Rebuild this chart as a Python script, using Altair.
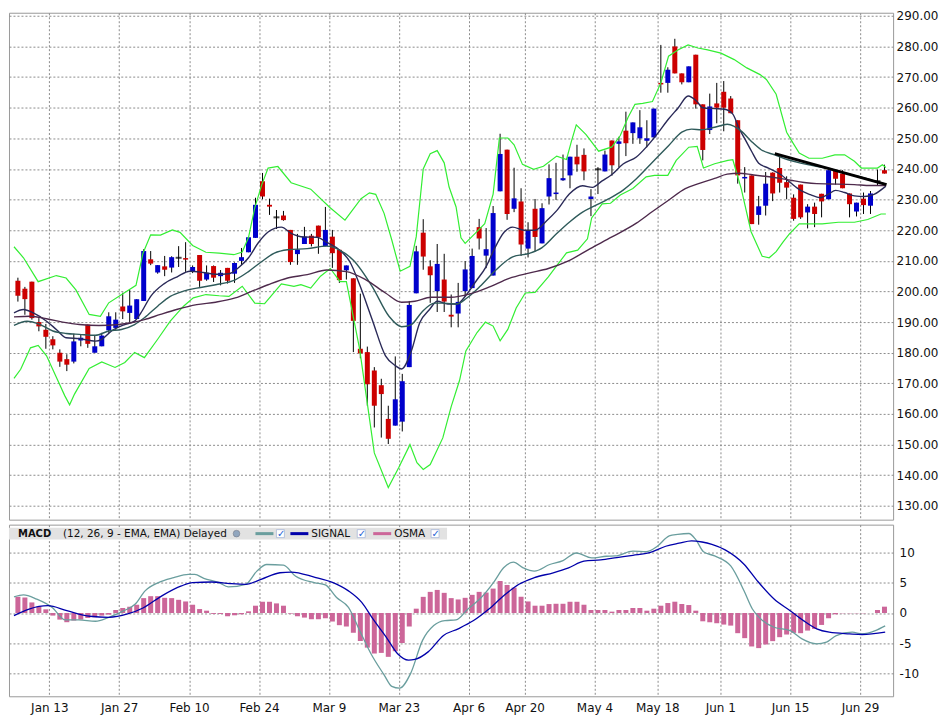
import altair as alt
import numpy as np
import pandas as pd

# one candle per trading day, index 0 = Jan 6
opens = [203.5, 200.9, 203.2, 190.0, 187.5, 184.4, 180.0, 177.9, 177.1, 184.0,
         189.2, 180.0, 182.1, 187.3, 188.1, 195.1, 193.0, 191.0, 196.9, 210.5,
         206.2, 208.2, 207.8, 211.0, 210.9, 206.4, 211.9, 203.9, 208.3, 205.0,
         207.7, 205.8, 210.0, 212.8, 217.5, 236.0, 228.3, 224.2, 224.8, 220.1,
         212.2, 215.5, 218.2, 221.5, 214.8, 217.9, 213.6, 206.9, 204.3, 181.3,
         180.2, 174.2, 169.4, 158.4, 156.2, 157.5, 175.3, 199.4, 219.2, 208.2,
         200.1, 203.9, 192.4, 192.8, 200.1, 201.1, 221.0, 211.7, 205.2, 232.7,
         246.3, 227.0, 229.4, 214.0, 227.0, 215.7, 231.0, 231.8, 236.3, 237.9,
         244.0, 244.6, 230.2, 239.9, 239.2, 249.3, 248.2, 252.5, 251.7, 250.0,
         249.2, 250.3, 268.1, 268.1, 280.0, 271.2, 268.3, 277.3, 261.1, 252.7,
         261.4, 265.2, 263.0, 255.9, 236.9, 237.9, 225.0, 228.0, 238.8, 240.3,
         235.7, 230.6, 234.9, 225.8, 227.7, 231.9, 230.1, 239.6, 238.5, 232.0,
         226.1, 230.3, 228.0, 236.0, 239.6]
highs = [204.5, 201.5, 203.2, 191.3, 189.4, 185.4, 181.1, 179.5, 186.2, 186.0,
         189.2, 185.8, 186.5, 193.2, 193.2, 199.6, 200.5, 197.5, 213.8, 213.2,
         208.6, 211.6, 211.5, 214.8, 216.1, 208.5, 211.9, 208.5, 208.5, 207.0,
         207.7, 209.5, 214.2, 217.7, 230.6, 238.7, 230.3, 226.6, 226.3, 220.1,
         218.8, 221.1, 218.8, 221.5, 227.6, 220.1, 213.6, 208.5, 204.3, 199.3,
         182.0, 175.3, 171.5, 162.7, 178.8, 173.1, 196.9, 214.9, 223.6, 210.2,
         215.5, 212.3, 199.0, 202.8, 209.9, 214.0, 223.7, 220.7, 227.9, 251.5,
         246.3, 240.4, 233.7, 222.6, 230.2, 228.8, 241.5, 242.0, 244.7, 244.0,
         247.9, 246.7, 233.4, 240.6, 246.0, 249.3, 250.5, 258.7, 255.2, 259.2,
         255.9, 259.7, 280.5, 273.2, 282.5, 271.2, 273.5, 277.3, 261.1, 264.6,
         268.1, 268.7, 263.8, 255.9, 240.6, 237.9, 231.2, 239.0, 238.9, 244.6,
         237.6, 231.7, 234.9, 228.5, 229.0, 231.9, 239.6, 239.8, 239.6, 232.0,
         229.0, 232.3, 232.8, 239.8, 241.4]
lows = [196.7, 192.4, 190.8, 187.0, 181.3, 181.1, 175.4, 174.0, 176.5, 182.1,
        181.6, 180.0, 182.1, 186.5, 187.5, 191.0, 190.0, 191.0, 196.9, 208.6,
        205.8, 205.0, 206.2, 208.0, 206.4, 206.0, 201.5, 203.5, 203.1, 202.0,
        202.6, 202.8, 208.6, 212.8, 217.5, 230.1, 225.0, 220.4, 223.1, 208.7,
        208.7, 215.5, 214.7, 212.3, 214.8, 207.7, 202.8, 203.9, 180.2, 178.2,
        162.7, 155.6, 152.3, 150.2, 156.2, 154.3, 175.3, 199.4, 207.1, 196.3,
        193.3, 193.3, 188.3, 188.3, 198.4, 201.1, 213.7, 207.6, 205.2, 232.7,
        223.4, 225.9, 211.6, 211.1, 213.0, 215.7, 228.4, 229.9, 236.1, 233.7,
        239.1, 236.3, 224.6, 231.8, 239.2, 237.8, 240.5, 244.2, 248.2, 248.2,
        247.1, 250.3, 264.9, 264.9, 271.2, 267.6, 268.3, 259.7, 242.8, 251.4,
        254.9, 252.3, 258.2, 235.2, 232.3, 222.0, 221.8, 224.8, 229.5, 232.3,
        230.1, 223.1, 223.7, 220.6, 221.0, 224.2, 230.1, 234.9, 233.7, 224.2,
        224.5, 225.3, 225.3, 234.6, 238.5]
closes = [198.6, 197.5, 191.3, 188.6, 185.2, 182.4, 177.1, 176.1, 183.7, 184.9,
          182.9, 182.1, 185.6, 191.9, 190.8, 193.5, 195.4, 197.5, 213.2, 209.1,
          208.6, 207.1, 211.2, 211.0, 210.4, 208.0, 203.5, 206.1, 204.5, 206.1,
          203.5, 209.3, 211.2, 217.7, 228.3, 231.0, 227.7, 224.2, 223.3, 209.6,
          213.7, 217.9, 215.5, 217.7, 220.1, 212.5, 203.7, 208.5, 190.4, 179.8,
          169.7, 162.7, 166.5, 151.9, 164.8, 170.7, 195.6, 213.1, 211.4, 205.3,
          209.0, 196.7, 191.8, 196.6, 207.2, 211.6, 217.3, 213.8, 225.6, 244.9,
          225.3, 230.4, 215.3, 220.0, 217.8, 227.2, 237.0, 232.3, 237.0, 244.0,
          241.5, 239.2, 231.0, 239.9, 244.7, 241.2, 249.0, 248.4, 255.2, 253.6,
          250.0, 259.7, 267.6, 272.4, 271.2, 268.3, 273.5, 261.1, 246.2, 260.4,
          260.0, 260.0, 258.2, 237.9, 237.4, 222.0, 227.8, 235.2, 232.0, 235.5,
          233.9, 223.7, 224.2, 227.7, 225.3, 229.4, 239.6, 236.8, 233.7, 228.5,
          229.0, 228.2, 232.0, 236.0, 238.5]

osma = [2.66, 2.55, 1.74, 1.09, 0.6, -0.43, -1.09, -1.52, -1.25, -1.09,
        -0.82, -0.71, -0.43, -0.27, 0.49, 0.82, 1.03, 1.36, 2.45, 2.77,
        2.77, 2.5, 2.45, 2.17, 1.9, 1.36, 0.65, 0.38, -0.15, -0.16,
        -0.54, -0.38, -0.22, 0.27, 1.2, 1.85, 1.85, 1.58, 1.2, -0.1,
        -0.54, -0.76, -1.03, -1.03, -0.87, -1.41, -2.01, -2.23, -3.26, -4.62,
        -5.71, -6.68, -6.58, -7.23, -6.3, -4.95, -2.23, 0.71, 2.66, 3.48,
        3.8, 3.32, 2.45, 2.23, 2.5, 2.99, 3.48, 3.37, 4.02, 5.27,
        4.62, 4.18, 2.66, 1.9, 1.2, 1.2, 1.47, 1.52, 1.52, 1.85,
        1.85, 1.36, 0.49, 0.49, 0.49, 0.22, 0.49, 0.49, 0.82, 0.82,
        0.38, 0.71, 1.2, 1.64, 1.86, 1.48, 1.31, 0.38, -1.37, -1.53,
        -1.69, -1.91, -2.08, -3.33, -4.15, -5.52, -5.79, -5.19, -4.64, -3.99,
        -3.55, -3.28, -3.33, -2.9, -2.62, -1.97, -0.87, -0.22, -0.05, -0.05,
        -0.05, -0.05, 0.0, 0.49, 1.04]

# (day index, value)
upper_band = [(-0.56, 214.6), (0.8, 211.0), (2.9, 203.2), (5.5, 205.2), (6.9, 204.4),
              (8.3, 200.5), (10.2, 192.5), (11.8, 191.9), (13.0, 196.3), (15.3, 199.7),
              (16.9, 202.0), (17.9, 212.5), (19.0, 218.5), (20.4, 218.4), (22.1, 220.1),
              (23.2, 219.3), (25.0, 215.0), (26.9, 212.8), (28.8, 212.5), (30.9, 212.0),
              (32.1, 212.9), (33.0, 217.7), (33.9, 227.4), (34.9, 234.9), (35.8, 240.3),
              (37.2, 240.8), (39.1, 235.5), (41.9, 233.4), (44.6, 227.5), (46.8, 223.3),
              (49.1, 230.3), (50.3, 232.2), (51.2, 231.7), (52.4, 225.5), (53.5, 216.8),
              (54.7, 206.6), (56.1, 208.2), (57.0, 217.9), (58.0, 240.0), (59.0, 245.0),
              (60.0, 246.0), (61.0, 242.0), (61.7, 234.1), (62.7, 227.6), (63.4, 217.5),
              (64.0, 215.7), (65.4, 218.9), (66.8, 222.1), (68.0, 231.8), (68.9, 250.1),
              (70.1, 250.1), (71.0, 247.9), (72.2, 241.5), (73.8, 239.9), (75.2, 240.9),
              (77.1, 244.2), (78.5, 243.1), (79.2, 249.0), (79.9, 254.4), (81.3, 251.2),
              (83.1, 245.8), (85.0, 247.2), (86.2, 250.9), (87.3, 256.8), (88.3, 261.1),
              (89.4, 261.4), (90.8, 262.0), (92.0, 268.1), (93.1, 276.8), (94.5, 278.9),
              (95.9, 280.5), (97.3, 279.5), (98.7, 278.9), (100.6, 277.8), (102.5, 275.7),
              (104.3, 273.0), (106.2, 270.8), (107.1, 269.2), (108.5, 264.4), (110.0, 252.0),
              (110.9, 248.5), (111.8, 245.2), (113.2, 243.5), (115.1, 243.5), (116.9, 244.6),
              (118.3, 244.6), (119.7, 242.5), (120.7, 240.3), (123.0, 240.3), (123.7, 241.4),
              (124.2, 240.5)]
lower_band = [(-0.56, 171.6), (0.4, 174.6), (1.8, 181.6), (2.9, 182.4), (4.1, 179.0),
              (5.5, 172.0), (6.7, 166.0), (7.4, 163.0), (8.1, 166.5), (10.2, 174.9),
              (12.0, 177.0), (13.9, 175.2), (15.3, 176.8), (16.7, 180.1), (18.1, 178.4),
              (20.0, 184.4), (21.8, 190.3), (23.7, 195.2), (25.1, 197.9), (26.9, 199.0),
              (28.8, 198.6), (30.2, 198.4), (32.1, 201.7), (33.9, 196.2), (35.3, 196.0),
              (37.7, 202.5), (39.5, 201.7), (40.5, 202.2), (41.9, 201.1), (43.3, 205.0),
              (44.7, 207.5), (46.1, 203.2), (47.0, 203.2), (48.9, 181.2), (51.0, 147.3),
              (53.0, 136.0), (54.5, 142.5), (56.1, 150.0), (57.1, 144.1), (58.0, 141.9),
              (59.0, 143.5), (60.8, 152.2), (62.0, 162.4), (63.2, 171.0), (64.1, 180.6),
              (65.7, 186.6), (66.9, 190.0), (68.0, 188.7), (69.0, 183.9), (70.1, 187.6),
              (71.3, 194.6), (72.6, 199.5), (74.0, 199.7), (75.9, 204.8), (77.3, 209.0),
              (78.5, 212.6), (80.1, 213.5), (81.5, 217.2), (82.1, 224.0), (83.6, 228.6),
              (84.8, 228.8), (86.2, 231.5), (88.0, 233.6), (89.9, 237.4), (91.1, 237.9),
              (93.0, 237.9), (94.2, 242.8), (96.0, 247.1), (97.2, 247.4), (98.1, 240.3),
              (99.7, 241.7), (101.6, 242.8), (102.3, 243.0), (103.5, 233.6), (104.9, 219.6),
              (106.5, 211.5), (107.5, 211.0), (108.5, 213.0), (109.5, 216.2), (110.4, 218.8),
              (111.8, 222.1), (115.1, 222.1), (117.4, 222.6), (119.7, 222.6), (121.6, 223.5),
              (123.5, 225.3), (124.2, 225.3)]
fast_avg = [(-0.56, 193.0), (0.8, 194.1), (2.2, 193.0), (4.1, 190.3), (5.5, 187.6),
            (6.9, 184.9), (8.8, 184.6), (11.1, 183.8), (12.0, 184.4), (13.4, 187.1),
            (15.3, 189.2), (16.7, 190.3), (17.6, 193.0), (19.0, 198.4), (20.9, 202.5),
            (22.8, 204.8), (24.6, 206.6), (26.5, 206.2), (28.3, 205.6), (30.2, 205.8),
            (31.6, 207.8), (33.0, 211.0), (34.4, 215.9), (35.8, 219.4), (37.7, 221.0),
            (39.1, 219.0), (40.9, 217.8), (42.8, 217.7), (44.2, 216.0), (46.1, 213.4),
            (47.5, 209.7), (48.9, 202.2), (50.7, 190.8), (52.6, 179.0), (54.0, 175.8),
            (54.9, 174.7), (56.3, 180.6), (57.5, 189.8), (58.9, 194.1), (60.0, 196.8),
            (61.5, 195.9), (62.8, 195.9), (64.2, 199.0), (65.6, 203.5), (67.0, 208.1),
            (68.2, 214.0), (69.6, 219.4), (70.8, 221.0), (72.4, 220.0), (74.0, 220.0),
            (75.7, 223.2), (77.1, 226.4), (78.9, 231.8), (80.8, 234.5), (82.2, 234.0),
            (83.6, 236.1), (85.0, 238.2), (86.6, 241.6), (88.5, 243.9), (89.9, 247.1),
            (91.3, 250.9), (93.1, 256.3), (94.5, 260.0), (95.9, 263.8), (97.1, 262.2),
            (98.0, 260.0), (99.7, 259.7), (101.1, 259.5), (102.3, 257.9), (103.2, 253.2),
            (104.1, 249.5), (105.0, 245.7), (106.0, 241.9), (107.4, 240.3), (109.2, 238.1),
            (110.6, 235.4), (112.0, 233.0), (113.4, 231.6), (114.8, 230.6), (116.0, 231.8),
            (117.0, 233.0), (118.3, 232.3), (119.7, 231.2), (121.1, 231.0), (122.5, 231.7),
            (124.2, 234.4)]
mid_avg = [(-0.56, 188.9), (1.3, 190.3), (3.2, 189.2), (5.0, 187.1), (6.9, 186.3),
           (8.8, 186.0), (11.1, 185.7), (13.0, 187.1), (14.8, 187.6), (16.7, 189.2),
           (18.1, 191.4), (20.0, 195.2), (21.8, 198.4), (23.7, 200.1), (25.6, 201.1),
           (28.3, 202.2), (31.1, 203.8), (33.0, 206.5), (34.9, 209.8), (36.7, 212.5),
           (38.6, 213.6), (41.4, 214.0), (44.2, 214.8), (46.1, 213.4), (48.0, 210.2),
           (50.7, 201.6), (53.1, 191.9), (54.9, 188.5), (56.3, 189.2), (57.7, 193.0),
           (59.6, 196.2), (61.0, 196.2), (62.8, 195.9), (64.2, 197.8), (66.1, 201.6),
           (68.4, 207.0), (70.8, 211.3), (73.1, 212.4), (75.0, 214.3), (77.1, 218.9),
           (78.9, 222.6), (80.8, 225.9), (82.6, 228.0), (84.5, 230.2), (86.6, 233.1),
           (88.5, 236.8), (90.8, 242.2), (93.1, 247.6), (95.0, 252.0), (96.4, 253.0),
           (97.8, 252.8), (99.7, 253.6), (101.5, 254.6), (103.6, 252.2), (105.0, 248.9),
           (106.4, 246.2), (108.3, 244.6), (110.2, 243.0), (112.0, 241.9), (113.9, 241.0),
           (115.7, 240.3), (117.5, 239.2), (119.5, 238.0), (121.5, 236.8), (123.0, 235.8),
           (124.2, 235.0)]
slow_avg = [(-0.56, 191.7), (1.8, 191.9), (4.1, 191.1), (6.4, 190.0), (8.8, 189.2),
            (11.6, 188.9), (14.4, 189.2), (16.2, 189.8), (18.1, 190.8), (20.4, 192.5),
            (22.7, 194.1), (25.6, 195.7), (28.3, 196.5), (31.1, 197.9), (33.5, 200.1),
            (35.8, 202.2), (38.6, 204.4), (41.4, 205.5), (44.2, 207.0), (47.0, 206.5),
            (49.8, 203.8), (52.6, 199.5), (54.9, 196.5), (56.8, 196.8), (59.1, 198.1),
            (61.9, 198.1), (64.7, 199.2), (67.5, 201.5), (70.3, 204.3), (73.1, 206.0),
            (75.9, 207.5), (78.7, 209.9), (81.9, 214.0), (85.0, 217.8), (88.5, 222.3),
            (90.8, 226.1), (93.1, 229.8), (95.5, 233.6), (97.4, 235.2), (99.7, 236.9),
            (101.5, 238.3), (103.2, 238.6), (105.1, 238.1), (106.9, 237.6), (108.8, 237.0),
            (110.6, 236.3), (112.5, 235.6), (114.3, 235.2), (116.2, 235.1), (119.7, 234.9),
            (122.0, 234.6), (124.2, 234.6)]
trend_line = [(108.3, 245.0), (124.3, 234.9)]

macd_line = [(-0.56, 2.66), (0.8, 2.99), (2.7, 2.28), (4.9, 0.92), (6.8, -1.14),
             (8.7, -1.14), (11.1, -1.36), (13.0, -0.71), (15.2, 0.38), (16.8, 1.47),
             (18.2, 3.64), (20.1, 5.0), (22.3, 5.82), (24.4, 6.36), (25.3, 6.36),
             (26.6, 5.71), (28.8, 5.0), (30.1, 4.29), (32.6, 4.73), (34.2, 6.9),
             (35.6, 7.99), (38.0, 7.88), (39.7, 6.09), (42.4, 5.0), (44.0, 4.62),
             (45.6, 2.55), (47.3, 0.92), (48.9, -2.88), (50.5, -6.68), (52.4, -10.2),
             (53.5, -12.1), (54.6, -12.4), (56.2, -9.95), (57.9, -4.51), (59.5, -2.07),
             (61.1, -1.25), (62.7, -1.14), (64.4, 0.65), (66.3, 2.55), (68.2, 5.27),
             (69.5, 7.45), (70.9, 8.37), (72.3, 7.45), (73.9, 6.9), (76.1, 7.99),
             (78.0, 8.64), (79.9, 9.89), (82.1, 9.08), (84.2, 9.35), (85.5, 9.4),
             (88.0, 10.2), (89.9, 10.1), (91.5, 11.0), (93.2, 12.7), (94.4, 12.95),
             (96.0, 13.1), (97.0, 12.1), (98.1, 10.1), (99.7, 9.4), (102.0, 7.76),
             (103.9, 3.66), (105.1, 0.66), (106.3, -0.98), (108.2, -2.35), (110.5, -2.9),
             (112.2, -4.26), (114.3, -5.08), (115.7, -4.81), (117.1, -3.72), (119.4, -3.17),
             (120.8, -3.44), (122.7, -2.9), (124.1, -2.13)]
signal_line = [(-0.56, -0.43), (1.6, 0.65), (4.3, 1.2), (7.0, 0.38), (10.3, -0.54),
               (13.0, -0.71), (15.7, -0.16), (17.9, 0.82), (20.6, 2.83), (23.4, 4.46),
               (25.0, 5.0), (27.7, 5.11), (30.4, 4.84), (32.6, 4.73), (34.8, 5.54),
               (37.5, 6.63), (39.1, 6.74), (42.4, 5.92), (45.1, 5.0), (47.3, 3.64),
               (49.2, 1.74), (50.8, -0.98), (52.7, -3.97), (54.3, -6.68), (55.9, -7.77),
               (56.8, -7.66), (58.7, -6.41), (60.9, -3.7), (63.0, -2.61), (65.2, -1.25),
               (67.4, 0.65), (69.5, 2.83), (71.7, 4.73), (73.9, 5.82), (76.6, 6.63),
               (78.8, 7.45), (81.0, 8.53), (83.4, 8.74), (85.7, 9.13), (88.0, 9.51),
               (90.4, 9.95), (92.7, 11.0), (94.6, 11.5), (96.4, 11.9), (97.9, 11.7),
               (99.3, 11.3), (101.2, 10.4), (103.9, 8.03), (105.8, 5.3), (108.2, 2.3),
               (110.5, 0.38), (112.4, -1.26), (114.3, -2.62), (116.1, -3.17), (119.0, -3.44),
               (120.8, -3.55), (124.1, -3.17)]

# x tick positions sit between the Friday and Monday candles
tick_pos = [4.5, 14.5, 24.5, 34.5, 44.5, 54.5, 64.5, 72.5, 82.5, 91.5, 100.5, 110.5, 120.5]
tick_labels = ["Jan 13", "Jan 27", "Feb 10", "Feb 24", "Mar 9", "Mar 23", "Apr 6",
               "Apr 20", "May 4", "May 18", "Jun 1", "Jun 15", "Jun 29"]
price_ticks = list(range(130, 291, 10))
macd_ticks = [-10, -5, 0, 5, 10]

FONT = "DejaVu Sans"
W = 886
X_DOMAIN = [-0.56, 124.52]
PRICE_DOMAIN = [125.5, 291.0]


def pts(pairs, name):
    return pd.DataFrame({"idx": [p[0] for p in pairs], "value": [p[1] for p in pairs], "series": name})


def y_price(field):
    return alt.Y(field, type="quantitative",
                 scale=alt.Scale(domain=PRICE_DOMAIN, nice=False, zero=False),
                 axis=alt.Axis(orient="right", values=price_ticks, format=".2f", ticks=False,
                               domain=False, title=None, labelFontSize=12, labelPadding=3,
                               labelOverlap=False))


candles = pd.DataFrame({"idx": range(len(opens)), "open": opens, "high": highs,
                        "low": lows, "close": closes})
candles["dir"] = np.where(candles.close > candles.open, "up",
                          np.where(candles.close < candles.open, "down", "flat"))

label_expr = "[{}][indexof([{}], datum.value)]".format(
    ",".join(f"'{t}'" for t in tick_labels), ",".join(str(p) for p in tick_pos))

x_main = alt.X("idx:Q", scale=alt.Scale(domain=X_DOMAIN, nice=False, zero=False),
               axis=alt.Axis(values=tick_pos, labels=False, ticks=False, domain=False, title=None))
x_macd = alt.X("idx:Q", scale=alt.Scale(domain=X_DOMAIN, nice=False, zero=False),
               axis=alt.Axis(values=tick_pos, labelExpr=label_expr, ticks=False, domain=False,
                             title=None, labelFontSize=12, labelPadding=6, labelOverlap=False))

base = alt.Chart(candles)
wicks = base.mark_rule(color="#000", strokeWidth=1).encode(x=x_main, y=y_price("low"), y2="high:Q")
bodies = base.transform_filter("datum.dir != 'flat'").mark_bar(size=5).encode(
    x=x_main, y=y_price("open"), y2="close:Q",
    color=alt.Color("dir:N", scale=alt.Scale(domain=["up", "down"], range=["#0000cc", "#cc0000"]),
                    legend=None))
dojis = base.transform_filter("datum.dir == 'flat'").mark_tick(
    color="#000", size=6, thickness=2, orient="horizontal").encode(x=x_main, y=y_price("close"))

bands = alt.Chart(pd.concat([pts(upper_band, "upper"), pts(lower_band, "lower")])).mark_line(
    color="#33ee33", strokeWidth=1.2, clip=True).encode(x=x_main, y=y_price("value"), detail="series:N")
avgs = alt.Chart(pd.concat([pts(fast_avg, "fast"), pts(mid_avg, "mid"), pts(slow_avg, "slow")])).mark_line(
    strokeWidth=1.4, interpolate="monotone", clip=True).encode(
    x=x_main, y=y_price("value"),
    color=alt.Color("series:N", scale=alt.Scale(domain=["fast", "mid", "slow"],
                                                range=["#2a2a58", "#2e5a5a", "#4e2a4c"]), legend=None))
trend = alt.Chart(pts(trend_line, "trend")).mark_line(color="#000", strokeWidth=3).encode(
    x=x_main, y=y_price("value"))

main = alt.layer(wicks, bodies, dojis, bands, avgs, trend).resolve_scale(color="independent").properties(
    width=W, height=508)

# MACD panel
y_macd = alt.Y("value:Q", scale=alt.Scale(domain=[-13.73, 14.56], nice=False, zero=False),
               axis=alt.Axis(orient="right", values=macd_ticks, labelExpr="'' + datum.value", ticks=False,
                             domain=False, title=None, labelFontSize=12, labelPadding=6,
                             labelOverlap=False))
bars = alt.Chart(pd.DataFrame({"idx": range(len(osma)), "value": osma})).mark_bar(
    size=5, color="#cc6699").encode(x=x_macd, y=y_macd, y2=alt.datum(0))
macd_l = alt.Chart(pts(macd_line, "macd")).mark_line(color="#6a9e9e", strokeWidth=1.3,
                                                     interpolate="monotone").encode(x=x_macd, y=y_macd)
signal_l = alt.Chart(pts(signal_line, "signal")).mark_line(color="#0000aa", strokeWidth=1.3,
                                                           interpolate="monotone").encode(x=x_macd, y=y_macd)

hdr = alt.Chart(pd.DataFrame({"k": [0]}))
box = hdr.mark_rect(color="#e2e2e2").encode(x=alt.value(0), x2=alt.value(439), y=alt.value(3), y2=alt.value(15))


def label(txt, x, bold=False, color="#111", size=10.5):
    return hdr.mark_text(align="left", baseline="middle", font=FONT, fontSize=size, color=color,
                         fontWeight="bold" if bold else "normal").encode(
        x=alt.value(x), y=alt.value(9), text=alt.value(txt))


def swatch(color, x0, x1):
    return hdr.mark_rule(color=color, strokeWidth=3).encode(x=alt.value(x0), x2=alt.value(x1), y=alt.value(9))


def check(x):
    return [hdr.mark_rect(color="#ffffff", stroke="#a8b8d8", strokeWidth=0.8).encode(
                x=alt.value(x - 4), x2=alt.value(x + 4), y=alt.value(5), y2=alt.value(13)),
            label("\u2713", x - 3.5, bold=True, color="#1f5fd6", size=10)]


globe = hdr.mark_point(filled=True, size=45, color="#6f8db0", stroke="#445", strokeWidth=0.5).encode(
    x=alt.value(228), y=alt.value(9))

header = [box, label("MACD", 9, bold=True, size=10), label("(12, 26, 9 - EMA, EMA) Delayed", 54), globe,
          swatch("#6a9e9e", 247, 265), *check(272),
          swatch("#0000aa", 282, 300), label("SIGNAL", 303), *check(353),
          swatch("#cc6699", 365, 383), label("OSMA", 386), *check(427)]

macd = alt.layer(bars, macd_l, signal_l, *header).properties(width=W, height=172)

chart = alt.vconcat(main, macd, spacing=3).properties(padding=0).configure_axis(
    gridColor="#8c8c8c", gridDash=[2, 2], gridOpacity=1, labelFont=FONT, labelColor="#111"
).configure_view(stroke="#9a9a9a", strokeWidth=1)

chart.save("out.html", embed_options={"renderer": "svg", "actions": False})
